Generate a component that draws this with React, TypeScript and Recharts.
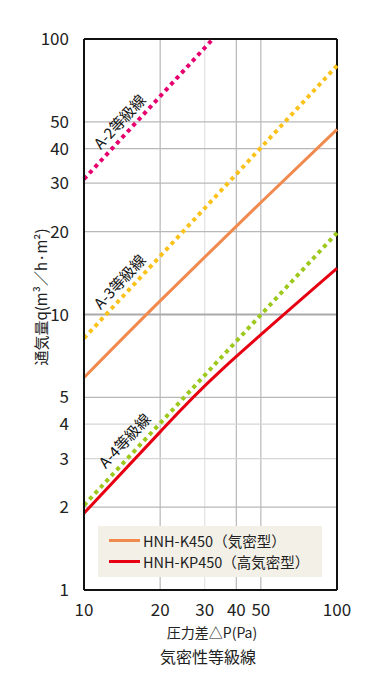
import React from 'react';
import {
  LineChart,
  Line,
  XAxis,
  YAxis,
  ReferenceLine,
} from 'recharts';

// pressure difference (Pa) / airflow (m3/h·m2)
const pressureTicks = [10, 20, 30, 40, 50, 100];
const flowTicks = [1, 2, 3, 4, 5, 10, 20, 30, 40, 50, 100];

const a2Pressure = [10, 32.3];
const a2Flow = [31, 100];
const a3Pressure = [10, 100];
const a3Flow = [8.2, 80];
const a4Pressure = [10, 100];
const a4Flow = [2.03, 19.8];

const k450Pressure = [10, 20, 50, 100];
const k450Flow = [5.9, 11.2, 25.5, 47];
const kp450Pressure = [10, 20, 35, 100];
const kp450Flow = [1.9, 3.75, 6.3, 14.7];

const gridX = [20, 30, 40, 50];
const gridY = [2, 3, 4, 5, 10, 20, 30, 40, 50];
const lightGridX = [30];
const lightGridY = [3, 4];

const toPoints = (xs: number[], ys: number[]) => xs.map((x, i) => ({ x, y: ys[i] }));

const FONT = '"Noto Sans CJK JP", "Noto Sans", sans-serif';

const legendItems = [
  { name: 'HNH-K450（気密型）', color: '#f08a4e' },
  { name: 'HNH-KP450（高気密型）', color: '#e60012' },
];

function LegendBox() {
  return (
    <div
      style={{
        position: 'absolute',
        left: 98,
        top: 526,
        background: '#f3f0e7',
        width: 224,
        height: 51,
        boxSizing: 'border-box',
        padding: '4px 0 0 11px',
        fontFamily: FONT,
        fontSize: 14.5,
        color: '#222',
      }}
    >
      {legendItems.map((it) => (
        <div key={it.name} style={{ display: 'flex', alignItems: 'center', height: 21 }}>
          <span style={{ display: 'inline-block', width: 31, height: 3, background: it.color, marginRight: 3 }} />
          <span>{it.name}</span>
        </div>
      ))}
    </div>
  );
}

const lineLabels = [
  { text: 'A-2等級線', x: 119, y: 121 },
  { text: 'A-3等級線', x: 119, y: 281 },
  { text: 'A-4等級線', x: 124, y: 440 },
];

export default function App() {
  return (
    <div style={{ position: 'absolute', left: 0, top: 0, width: 388, height: 690, background: '#fff' }}>
      <LineChart width={388} height={690} margin={{ top: 39, right: 51, left: 0, bottom: 0 }}>
        <XAxis
          dataKey="x"
          type="number"
          scale="log"
          domain={[10, 100]}
          ticks={pressureTicks}
          allowDuplicatedCategory={false}
          height={100}
          tickLine={false}
          tickMargin={8}
          axisLine={{ stroke: '#111', strokeWidth: 2 }}
          tick={{ fill: '#222', fontSize: 17, fontFamily: FONT }}
        />
        <YAxis
          type="number"
          scale="log"
          domain={[1, 100]}
          ticks={flowTicks}
          allowDataOverflow
          width={84}
          tickLine={false}
          tickMargin={9}
          axisLine={{ stroke: '#111', strokeWidth: 2 }}
          tick={{ fill: '#222', fontSize: 17, fontFamily: FONT }}
        />
        {gridX.map((v) => (
          <ReferenceLine key={'gx' + v} x={v} stroke={lightGridX.includes(v) ? '#e2e2e2' : '#b8b8b8'} strokeWidth={1.2} />
        ))}
        {gridY.map((v) => (
          <ReferenceLine
            key={'gy' + v}
            y={v}
            stroke={lightGridY.includes(v) ? '#d6d6d6' : v === 10 ? '#aaa' : '#b8b8b8'}
            strokeWidth={v === 10 ? 2 : 1.2}
          />
        ))}
        <ReferenceLine x={100} stroke="#111" strokeWidth={2} />
        <ReferenceLine y={100} stroke="#111" strokeWidth={2} />
        <Line data={toPoints(a2Pressure, a2Flow)} dataKey="y" stroke="#e5006e" strokeWidth={4} strokeDasharray="4 4" dot={false} isAnimationActive={false} />
        <Line data={toPoints(a3Pressure, a3Flow)} dataKey="y" stroke="#fbc21b" strokeWidth={4} strokeDasharray="4 4" dot={false} isAnimationActive={false} />
        <Line data={toPoints(a4Pressure, a4Flow)} dataKey="y" stroke="#9dc81c" strokeWidth={4} strokeDasharray="4 4" dot={false} isAnimationActive={false} />
        <Line data={toPoints(k450Pressure, k450Flow)} dataKey="y" type="natural" stroke="#f08a4e" strokeWidth={3} dot={false} isAnimationActive={false} />
        <Line data={toPoints(kp450Pressure, kp450Flow)} dataKey="y" type="natural" stroke="#e60012" strokeWidth={3} dot={false} isAnimationActive={false} />
      </LineChart>
      <LegendBox />
      {lineLabels.map((l) => (
        <div
          key={l.text}
          style={{
            position: 'absolute',
            left: l.x,
            top: l.y,
            transform: 'translate(-50%, -50%) rotate(-47deg)',
            fontFamily: FONT,
            fontSize: 15,
            color: '#111',
            whiteSpace: 'nowrap',
          }}
        >
          {l.text}
        </div>
      ))}
      <div
        style={{
          position: 'absolute',
          left: 40,
          top: 297,
          transform: 'translate(-50%, -50%) rotate(-90deg)',
          fontFamily: FONT,
          fontSize: 15,
          color: '#222',
          whiteSpace: 'nowrap',
        }}
      >
        通気量q(m³／h·m²)
      </div>
      <div style={{ position: 'absolute', left: 0, width: 424, top: 622, textAlign: 'center', fontFamily: FONT, fontSize: 14, color: '#222' }}>
        圧力差△P(Pa)
      </div>
      <div style={{ position: 'absolute', left: 0, width: 416, top: 644, textAlign: 'center', fontFamily: FONT, fontSize: 16, color: '#222' }}>
        気密性等級線
      </div>
    </div>
  );
}
